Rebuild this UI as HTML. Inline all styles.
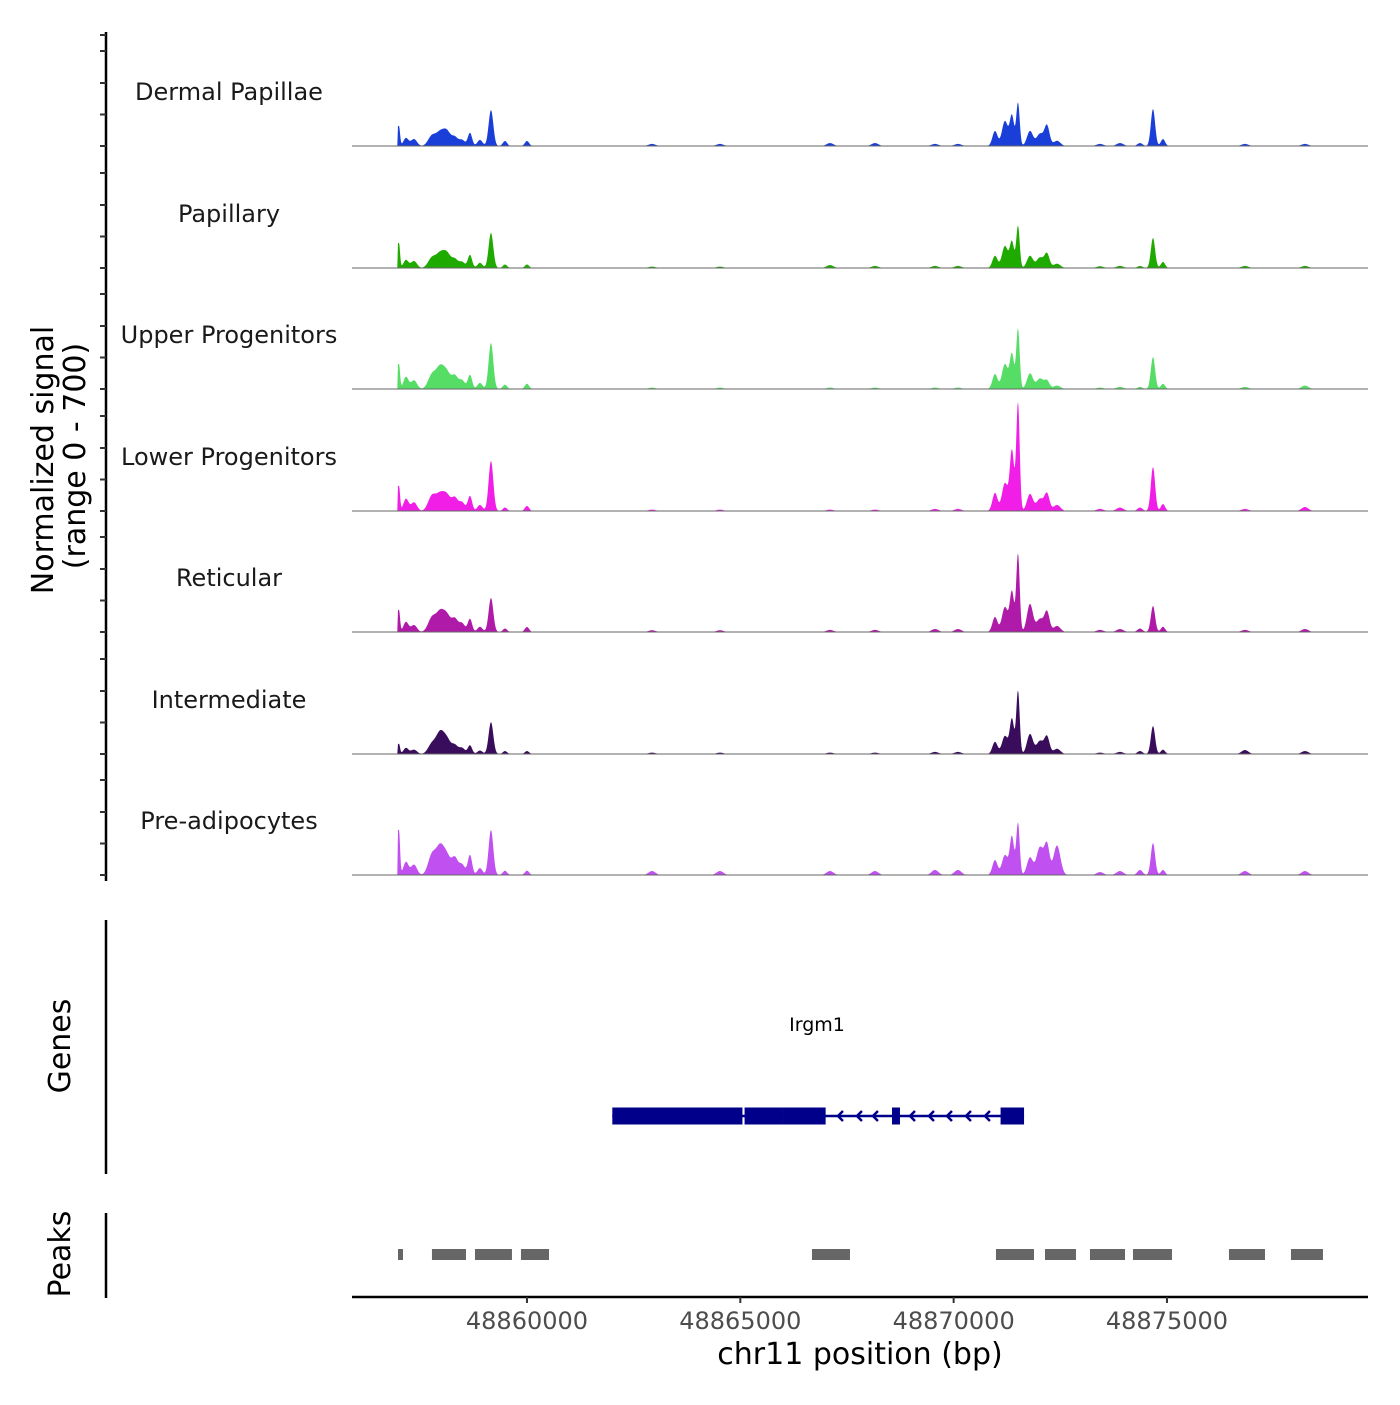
<!DOCTYPE html>
<html><head><meta charset="utf-8"><style>
body{margin:0;background:#fff}
svg text{font-family:"DejaVu Sans","Liberation Sans",sans-serif}
</style></head><body>
<svg id="chart" width="1400" height="1400" viewBox="0 0 1400 1400" xmlns="http://www.w3.org/2000/svg">
<g id="tracks"></g>
<g id="axes"></g>
<g id="genes"></g>
<g id="peaks"></g>
</svg>
<script>
// ---- data ----
const trackNames = ["Dermal Papillae","Papillary","Upper Progenitors","Lower Progenitors","Reticular","Intermediate","Pre-adipocytes"];
const trackColors = ["#1a3fd9","#1faa00","#55dd66","#f01ee6","#b01aa8","#3a0c5c","#c050f0"];
// peak centres (bp) and widths (bp, sigma)
const peakCenters = [48857000,48857164,48857352,48857773,48857961,48858125,48858312,48858477,48858664,48858898,48859156,48859484,48860000,48862930,48864523,48867102,48868156,48869562,48870101,48870969,48871203,48871367,48871508,48871789,48872023,48872188,48872422,48873430,48873898,48874367,48874672,48874906,48876828,48878234];
const peakWidths  = [25,60,70,90,90,90,70,70,50,60,55,50,50,80,80,80,80,80,80,60,70,50,40,70,80,60,80,80,80,60,50,50,80,80];
const dermalValues       = [115,46,40,58,70,81,46,35,75,35,207,29,29,12,12,17,17,12,12,86,144,173,248,86,70,115,30,12,17,17,213,40,12,12];
const papillaryValues    = [144,46,40,58,75,81,46,35,75,30,202,20,20,8,8,17,12,12,12,70,127,150,242,70,60,81,25,10,12,12,173,35,12,12];
const upperValues        = [144,70,50,81,115,90,70,50,81,35,265,25,30,8,8,8,8,8,8,86,144,200,346,90,60,46,20,8,12,12,184,30,12,20];
const lowerValues        = [144,70,50,86,86,86,70,50,86,35,288,20,29,8,8,8,8,12,12,104,161,346,622,98,70,98,35,12,20,20,253,40,12,23];
const reticularValues    = [127,58,40,81,104,92,70,50,75,30,196,20,29,10,10,12,12,17,17,86,144,230,450,161,75,115,35,12,17,20,150,30,12,17];
const intermediateValues = [58,35,25,58,115,81,46,35,50,20,184,17,17,8,8,8,8,12,12,70,104,200,363,115,75,98,30,8,12,17,161,25,23,17];
const preadipoValues     = [259,75,60,115,150,104,92,60,115,40,259,25,25,23,23,23,23,29,29,86,115,220,300,100,160,170,170,17,23,29,184,29,23,23];
const seriesValues = [dermalValues,papillaryValues,upperValues,lowerValues,reticularValues,intermediateValues,preadipoValues];
const xTicks = [48860000,48865000,48870000,48875000];
const xTickLabels = ["48860000","48865000","48870000","48875000"];
const geneExons = [[48862000,48865050],[48865100,48866000],[48866000,48867000],[48868555,48868742],[48871100,48871650]];
const geneStart = 48862000, geneEnd = 48871650;
const geneArrows = [48867289,48867734,48868109,48868977,48869422,48869844,48870289,48870734];
const peakRegions = [[48856977,48857094],[48857773,48858570],[48858781,48859648],[48859859,48860516],[48866680,48867570],[48870992,48871883],[48872141,48872867],[48873195,48874016],[48874203,48875117],[48876453,48877297],[48877906,48878656]];

// ---- scales ----
const NS="http://www.w3.org/2000/svg";
const X0=352,X1=1368;
const bp0=48855899, pxPerBp=640/15000;
const xs = bp => X0+(bp-bp0)*pxPerBp;
const baselines=[146,268,389,511,632,754,875];
const trackH=121.5, yMax=700;
const ys = (v,i) => baselines[i]-v/yMax*trackH;
const dataStart=48856960, dataEnd=48878500;

function el(tag,attrs,parent){const e=document.createElementNS(NS,tag);for(const k in attrs)e.setAttribute(k,attrs[k]);parent.appendChild(e);return e;}
const tracks=document.getElementById('tracks');
seriesValues.forEach((vals,i)=>{
  let d=`M${xs(dataStart).toFixed(1)},${baselines[i]}`;
  for(let px=Math.ceil(xs(dataStart));px<=xs(dataEnd);px+=0.5){
    const bp=bp0+(px-X0)/pxPerBp;
    let v=0;
    for(let k=0;k<peakCenters.length;k++){const z=(bp-peakCenters[k])/peakWidths[k];v+=vals[k]*Math.exp(-0.5*z*z);}
    if(bp<peakCenters[0]&&bp>=dataStart) v=Math.max(v,vals[0]);
    d+=`L${px.toFixed(1)},${ys(v,i).toFixed(1)}`;
  }
  d+=`L${xs(dataEnd).toFixed(1)},${baselines[i]}Z`;
  const p=el('path',{d,fill:trackColors[i]},tracks);
  
  
  const bl=el('line',{x1:X0,x2:X1,y1:baselines[i],y2:baselines[i],stroke:'#666','stroke-width':1},tracks);
  
  
  const t=el('text',{x:229,y:baselines[i]-46,'text-anchor':'middle','font-size':24,fill:'#1a1a1a'},tracks);
  t.textContent=trackNames[i];
  
  
});

// axes
const axes=document.getElementById('axes');
el('line',{x1:106,x2:106,y1:32,y2:881,stroke:'#000','stroke-width':2.5},axes);
baselines.forEach(b=>{[0,31.5,63,95].forEach(o=>{
  const tk=el('line',{x1:100,x2:106,y1:b-o,y2:b-o,stroke:'#333','stroke-width':2},axes);
  
  
});});
el('line',{x1:100,x2:106,y1:35,y2:35,stroke:'#333','stroke-width':2},axes);
let yt=el('text',{x:0,y:0,'text-anchor':'middle','font-size':30,fill:'#000',transform:'translate(53,460) rotate(-90)'},axes);
yt.textContent='Normalized signal';


yt=el('text',{x:0,y:0,'text-anchor':'middle','font-size':30,fill:'#000',transform:'translate(85,456) rotate(-90)'},axes);
yt.textContent='(range 0 - 700)';


el('line',{x1:106,x2:106,y1:920,y2:1174,stroke:'#000','stroke-width':2.5},axes);
el('line',{x1:106,x2:106,y1:1213,y2:1298,stroke:'#000','stroke-width':2.5},axes);
yt=el('text',{x:0,y:0,'text-anchor':'middle','font-size':30,fill:'#000',transform:'translate(70,1046) rotate(-90)'},axes);
yt.textContent='Genes';


yt=el('text',{x:0,y:0,'text-anchor':'middle','font-size':30,fill:'#000',transform:'translate(70,1254) rotate(-90)'},axes);
yt.textContent='Peaks';


el('line',{x1:X0,x2:X1,y1:1297,y2:1297,stroke:'#000','stroke-width':2.5},axes);
xTicks.forEach((v,i)=>{
  const tk=el('line',{x1:xs(v),x2:xs(v),y1:1297,y2:1303,stroke:'#333','stroke-width':2},axes);
  
  
  const t=el('text',{x:xs(v),y:1329,'text-anchor':'middle','font-size':24,fill:'#4d4d4d'},axes);
  t.textContent=xTickLabels[i];
  
  
});
const xt=el('text',{x:860,y:1364,'text-anchor':'middle','font-size':30,fill:'#000'},axes);
xt.textContent='chr11 position (bp)';



// genes
const genes=document.getElementById('genes');
const gy=1116;
el('line',{x1:xs(geneStart),x2:xs(geneEnd),y1:gy,y2:gy,stroke:'#00008b','stroke-width':2.5},genes);
geneExons.forEach(e=>{
  const r=el('rect',{x:xs(e[0]),y:gy-8.5,width:xs(e[1])-xs(e[0]),height:17,fill:'#00008b'},genes);
  
  
});
geneArrows.forEach(a=>{
  const x=xs(a);
  const p=el('path',{d:`M${x+5},${gy-5}L${x},${gy}L${x+5},${gy+5}`,fill:'none',stroke:'#00008b','stroke-width':2.5},genes);
  
  
});
const gl=el('text',{x:817,y:1031,'text-anchor':'middle','font-size':19,fill:'#000'},genes);
gl.textContent='Irgm1';



// peaks
const peaks=document.getElementById('peaks');
peakRegions.forEach(p=>{
  const r=el('rect',{x:xs(p[0]),y:1249,width:xs(p[1])-xs(p[0]),height:11,fill:'#666'},peaks);
  
  
});
</script>
</body></html>
